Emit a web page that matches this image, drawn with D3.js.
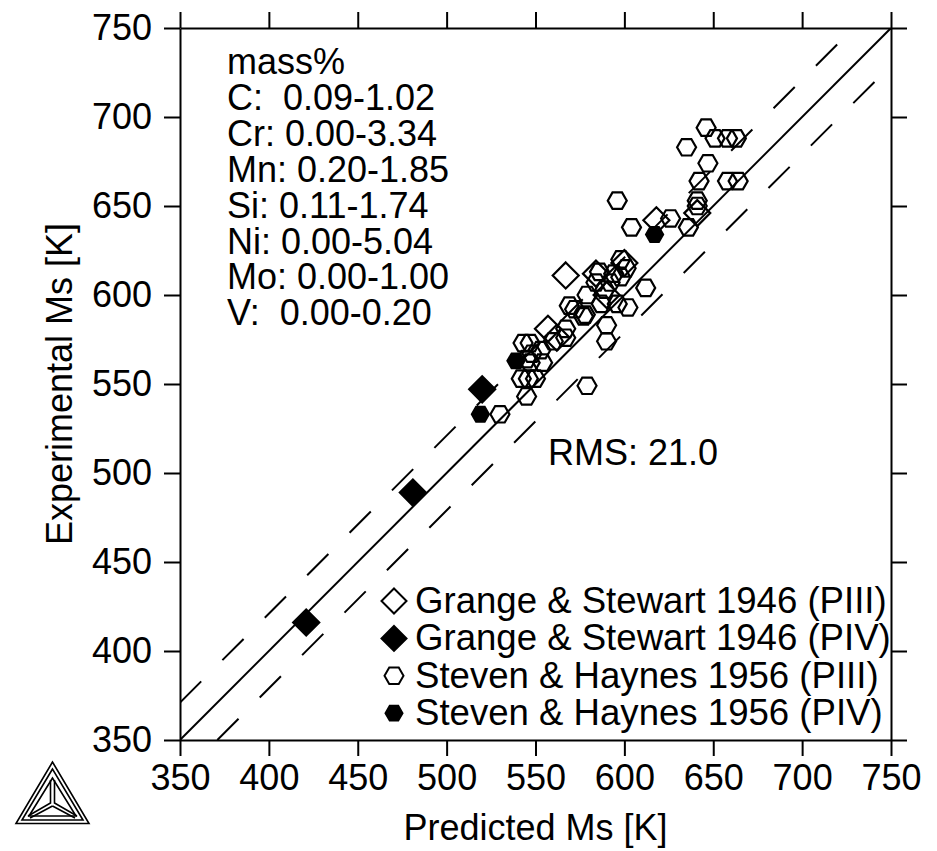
<!DOCTYPE html>
<html>
<head>
<meta charset="utf-8">
<script src="https://cdn.jsdelivr.net/npm/d3@7"></script>
<style>
  body { margin: 0; background: #fff; }
  text { font-family: "Liberation Sans", Arial, Helvetica, sans-serif; fill: #000; }
</style>
</head>
<body>
<svg id="chart" width="937" height="851"></svg>
<script>
// Ms data, [predicted, experimental] in K
var grangePIII = [[567,611],[557,581],[562,576],[584,612],[600,618],[618,642],[641,646],[590,600]];
var grangePIV = [[421,416],[481,489],[520,547]];
var stevenPIII = [
  [646,694],[651,688],[658,688],[663,688],[635,683],[647,674],[642,664],[658,664],[664,664],
  [641,653],[641,650],[626,643],[636,638],[596,653],[604,638],[612,604],[602,593],[590,583],
  [590,574],[579,549],[530,533],[545,543],[546,553],[542,553],[550,553],[543,573],[547,573],
  [554,562],[545,564],[553,569],[567,576],[567,581],[572,592],[578,589],[586,613],[598,620],
  [601,615],[569,594],[577,588],[548,567],[547,562],[584,607],[592,607],[579,600],[587,595],
  [596,595],[598,610],[589,603],[594,612],[560,574]
];
var stevenPIV = [[617,634],[539,563],[519,533]];
var ticks = [350,400,450,500,550,600,650,700,750];
var rms = 21.0;
var compLines = ["mass%","C:  0.09-1.02","Cr: 0.00-3.34","Mn: 0.20-1.85","Si: 0.11-1.74","Ni: 0.00-5.04","Mo: 0.00-1.00","V:  0.00-0.20"];
var legendNames = ["Grange & Stewart 1946 (PIII)","Grange & Stewart 1946 (PIV)","Steven & Haynes 1956 (PIII)","Steven & Haynes 1956 (PIV)"];

var svg = d3.select("#chart");
var margin = {left:180, top:28, right:46, bottom:111};
var w = 937 - margin.left - margin.right, h = 851 - margin.top - margin.bottom;

var x = d3.scaleLinear().domain([350,750]).range([0,w]);
var y = d3.scaleLinear().domain([350,750]).range([h,0]);

var g = svg.append("g").attr("transform","translate("+margin.left+","+margin.top+")");

svg.append("defs").append("clipPath").attr("id","clip")
  .append("rect").attr("width",w).attr("height",h);

// hexagon (flat top) and diamond paths
var hexPath = function(r) {
  var p = [];
  for (var i=0;i<6;i++) { var a = Math.PI/3*i; p.push([r*Math.cos(a), r*Math.sin(a)]); }
  return "M"+p.join("L")+"Z";
};
var diaPath = function(r) { return "M0,"+(-r)+"L"+r+",0L0,"+r+"L"+(-r)+",0Z"; };

// axes
var fs = 36;
var styleAxis = function(sel) {
  sel.selectAll("path,line").attr("stroke","#000").attr("stroke-width",2);
  sel.selectAll("text").style("font-size",fs+"px").attr("fill","#000");
};
g.append("g").attr("transform","translate(0,"+h+")")
  .call(d3.axisBottom(x).tickValues(ticks).tickSize(16).tickSizeOuter(0).tickPadding(8).tickFormat(d3.format("d")))
  .call(styleAxis);
g.append("g")
  .call(d3.axisTop(x).tickValues(ticks).tickSize(16).tickSizeOuter(0).tickFormat(""))
  .call(styleAxis);
g.append("g")
  .call(d3.axisLeft(y).tickValues(ticks).tickSize(16).tickSizeOuter(0).tickPadding(12).tickFormat(d3.format("d")))
  .call(styleAxis);
g.append("g").attr("transform","translate("+w+",0)")
  .call(d3.axisRight(y).tickValues(ticks).tickSize(16).tickSizeOuter(0).tickFormat(""))
  .call(styleAxis);

// reference lines y = x and y = x +/- rms
var lines = g.append("g").attr("clip-path","url(#clip)");
lines.append("line")
  .attr("x1",x(350)).attr("y1",y(350)).attr("x2",x(750)).attr("y2",y(750))
  .attr("stroke","#000").attr("stroke-width",2);
lines.append("line")
  .attr("x1",x(350)).attr("y1",y(350+rms)).attr("x2",x(750-rms)).attr("y2",y(750))
  .attr("stroke","#000").attr("stroke-width",2).attr("stroke-dasharray","30,30");
lines.append("line")
  .attr("x1",x(350+rms)).attr("y1",y(350)).attr("x2",x(750)).attr("y2",y(750-rms))
  .attr("stroke","#000").attr("stroke-width",2).attr("stroke-dasharray","30,30");

// points
var drawPts = function(data, path, fill) {
  g.append("g").selectAll("path").data(data).enter().append("path")
    .attr("d",path)
    .attr("transform",function(d){ return "translate("+x(d[0])+","+y(d[1])+")"; })
    .attr("fill",fill).attr("stroke","#000").attr("stroke-width",2.2);
};
drawPts(stevenPIII, hexPath(9.5), "none");
drawPts(grangePIII, diaPath(13), "none");
drawPts(stevenPIV, hexPath(8.5), "#000");
drawPts(grangePIV, diaPath(13), "#000");

// composition text
g.append("g").selectAll("text").data(compLines).enter().append("text")
  .attr("x",47).attr("y",function(d,i){ return 46+i*35.9; })
  .style("font-size",fs+"px").style("white-space","pre").attr("xml:space","preserve")
  .text(function(d){ return d; });

g.append("text").attr("x",368).attr("y",437).style("font-size",fs+"px").text("RMS: "+rms.toFixed(1));

// legend
var legSyms = [[diaPath(12.5),"#fff"],[diaPath(12.5),"#000"],[hexPath(9.5),"#fff"],[hexPath(8.5),"#000"]];
var leg = g.append("g").selectAll("g").data(legendNames).enter().append("g")
  .attr("transform",function(d,i){ return "translate(214,"+(585+i*37.4)+")"; });
leg.append("path").attr("d",function(d,i){ return legSyms[i][0]; })
  .attr("fill",function(d,i){ return legSyms[i][1]; }).attr("stroke","#000").attr("stroke-width",2)
  .attr("transform","translate(0,-12)");
leg.append("text").attr("x",21).attr("y",0).style("font-size","36.6px").text(function(d){ return d; });

// axis titles
svg.append("text").attr("x",margin.left+w/2).attr("y",840).attr("text-anchor","middle")
  .style("font-size",fs+"px").text("Predicted Ms [K]");
svg.append("text").attr("transform","translate(72,"+(margin.top+h/2)+") rotate(-90)")
  .attr("text-anchor","middle").style("font-size",fs+"px").text("Experimental Ms [K]");

// logo
var logo = svg.append("g").attr("fill","none").attr("stroke","#000").attr("stroke-width",1.6);
var tri = function(a,b,c){ return "M"+a+"L"+b+"L"+c+"Z"; };
logo.append("path").attr("d",tri([52.5,762],[16,823.5],[89,823.5]));
logo.append("path").attr("d",tri([52.5,769],[22,820],[83,820]));
logo.append("path").attr("d",tri([52.5,778],[29,816],[76,816]));
logo.append("path").attr("d","M50.5,780L50.5,803L28,816M54.5,780L54.5,803L77,816M52.5,806L30,818M52.5,806L75,818");
</script>
</body>
</html>
